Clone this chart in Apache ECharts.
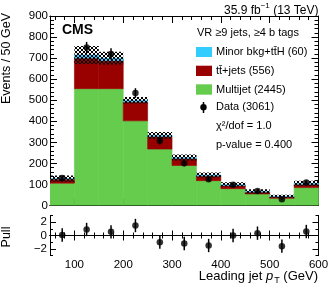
<!DOCTYPE html>
<html>
<head>
<meta charset="utf-8">
<script src="https://cdn.jsdelivr.net/npm/echarts@6/dist/echarts.min.js"></script>
<style>
html,body{margin:0;padding:0;background:#fff;}
#c{width:332px;height:285px;}
</style>
</head>
<body>
<div id="c"></div>
<script>
// ---- data ----
const binEdges = [50,100,150,200,250,300,350,400,450,500,550,600];
const multijet = [106,555,555,402,268,190,118,80,55,34,85];
const ttjets   = [20,145,133,90,60,33,22,15,9,8,16];
const minorBkg = [2,15,12,8,5,5,5,5,3,2,4];
const uncert   = [15,43,30,15,16,14,12,10,10,7,12];
const dataVals = [131,750,720,534,307,201,125,98,69,30,109];
const dataErr  = [11,27,27,23,17,14,11,10,8,5,10];
const pullVals = [0.07,0.9,0.55,1.5,-1.0,-1.2,-1.5,0.0,0.35,-1.6,0.6];
const pullErr  = [1,1,1,1,1,1,1,1,1,1,1];
const xMajorTicks = [100,200,300,400,500,600];
const xMinorTicks = [60,80,120,140,160,180,220,240,260,280,320,340,360,380,420,440,460,480,520,540,560,580];
const yPullMajor = [-2,0,2];
const yPullMinor = [-3,-1,1,3];

const FONT = 'Liberation Sans';
const C_GREEN = '#66cc4d', C_RED = '#990000', C_CYAN = '#33ccff';

// hatch pattern
const pc = document.createElement('canvas');
pc.width = 4; pc.height = 4;
const pctx = pc.getContext('2d');
pctx.fillStyle = '#000';
for (let i = 0; i < 4; i++) { pctx.fillRect(i, i, 1, 1); pctx.fillRect(i, 3 - i, 1, 1); }
const hatch = { image: pc, repeat: 'repeat' };

const centers = binEdges.slice(0, -1).map((e, i) => (e + binEdges[i + 1]) / 2);

function rects(base, vals) {
  return vals.map((v, i) => [binEdges[i], binEdges[i + 1], base[i], base[i] + v]);
}
const zero = multijet.map(() => 0);
const b1 = multijet.slice();
const b2 = multijet.map((v, i) => v + ttjets[i]);
const totals = b2.map((v, i) => v + minorBkg[i]);

function rectItem(color, stroke) {
  return function (params, api) {
    const p0 = api.coord([api.value(0), api.value(3)]);
    const p1 = api.coord([api.value(1), api.value(2)]);
    const st = { fill: color };
    if (stroke) { st.stroke = stroke; st.lineWidth = 0.6; }
    return { type: 'rect', shape: { x: p0[0], y: p0[1], width: p1[0] - p0[0], height: p1[1] - p0[1] },
      style: st };
  };
}
function errItem(params, api) {
  const p0 = api.coord([api.value(0), api.value(1)]);
  const p1 = api.coord([api.value(0), api.value(2)]);
  return { type: 'line', shape: { x1: p0[0], y1: p0[1], x2: p1[0], y2: p1[1] },
    style: { stroke: '#000', lineWidth: 1.5 } };
}

const axisLineStyle = { show: true, lineStyle: { color: '#000', width: 1 } };
function xAx(grid, pos, ticks, len, labels) {
  return {
    type: 'value', gridIndex: grid, position: pos, min: 50, max: 600,
    axisLine: axisLineStyle, splitLine: { show: false },
    axisTick: { show: true, inside: true, length: len, customValues: ticks, lineStyle: { color: '#000' } },
    axisLabel: labels ? { show: true, customValues: xMajorTicks, margin: 3, color: '#000',
      fontFamily: FONT, fontSize: 11.5 } : { show: false }
  };
}
function yPull(pos, ticks, len, labels) {
  return {
    type: 'value', gridIndex: 1, position: pos, min: -3, max: 3,
    axisLine: axisLineStyle, splitLine: { show: false },
    axisTick: { show: true, inside: true, length: len, customValues: ticks, lineStyle: { color: '#000' } },
    axisLabel: labels ? { show: true, customValues: yPullMajor, margin: 3, color: '#000',
      fontFamily: FONT, fontSize: 11.5,
      formatter: v => (v < 0 ? '\u2212' + (-v) : String(v)) } : { show: false }
  };
}
function yMain(pos, labels) {
  return {
    type: 'value', gridIndex: 0, position: pos, min: 0, max: 900, interval: 100,
    axisLine: axisLineStyle, splitLine: { show: false },
    axisTick: { show: true, inside: true, length: 7, lineStyle: { color: '#000' } },
    minorTick: { show: true, splitNumber: 5, length: 4, lineStyle: { color: '#000' } },
    minorSplitLine: { show: false },
    axisLabel: labels ? { show: true, margin: 2, color: '#000', fontFamily: FONT, fontSize: 11.5 } : { show: false }
  };
}

function txt(x, y, text, size, align, extra, rot) {
  const el = {
    type: 'text', x: x, y: y,
    style: Object.assign({ text: text, fill: '#000', font: size + 'px "' + FONT + '"',
      textAlign: align, align: align, textVerticalAlign: 'middle', verticalAlign: 'middle' }, extra || {})
  };
  if (rot) el.rotation = rot;
  return el;
}

const option = {
  animation: false,
  grid: [
    { left: 50, right: 13.5, top: 16, height: 189.5, show: false },
    { left: 50, right: 13.5, top: 215.5, height: 40, show: false }
  ],
  xAxis: [
    xAx(0, 'bottom', xMajorTicks, 7, false),
    xAx(0, 'bottom', xMinorTicks, 4, false),
    xAx(0, 'top', xMajorTicks, 7, false),
    xAx(0, 'top', xMinorTicks, 4, false),
    xAx(1, 'bottom', xMajorTicks, 5, true),
    xAx(1, 'bottom', xMinorTicks, 3, false),
    xAx(1, 'top', xMajorTicks, 5, false),
    xAx(1, 'top', xMinorTicks, 3, false)
  ],
  yAxis: [
    yMain('left', true),
    yMain('right', false),
    yPull('left', yPullMajor, 6, true),
    yPull('left', yPullMinor, 3, false),
    yPull('right', yPullMajor, 6, false),
    yPull('right', yPullMinor, 3, false)
  ],
  series: [
    { type: 'custom', xAxisIndex: 0, yAxisIndex: 0, renderItem: rectItem(C_GREEN, C_GREEN),
      encode: { x: [0, 1], y: [2, 3] }, data: rects(zero, multijet), clip: true },
    { type: 'custom', xAxisIndex: 0, yAxisIndex: 0, renderItem: rectItem(C_RED, C_RED),
      encode: { x: [0, 1], y: [2, 3] }, data: rects(b1, ttjets), clip: true },
    { type: 'custom', xAxisIndex: 0, yAxisIndex: 0, renderItem: rectItem(C_CYAN, C_CYAN),
      encode: { x: [0, 1], y: [2, 3] }, data: rects(b2, minorBkg), clip: true },
    { type: 'custom', xAxisIndex: 0, yAxisIndex: 0, renderItem: rectItem(hatch),
      encode: { x: [0, 1], y: [2, 3] },
      data: totals.map((t, i) => [binEdges[i], binEdges[i + 1], t - uncert[i], t + uncert[i]]), clip: true },
    { type: 'custom', xAxisIndex: 0, yAxisIndex: 0, renderItem: errItem,
      encode: { x: 0, y: [1, 2] },
      data: dataVals.map((v, i) => [centers[i], v - dataErr[i], v + dataErr[i]]) },
    { type: 'scatter', xAxisIndex: 0, yAxisIndex: 0, symbol: 'circle', symbolSize: 6.5,
      itemStyle: { color: '#000' }, data: dataVals.map((v, i) => [centers[i], v]) },
    // pull panel
    { type: 'line', xAxisIndex: 4, yAxisIndex: 2, data: [[50, 0], [600, 0]], symbol: 'none',
      lineStyle: { color: '#000', width: 1, type: [3, 3] } },
    { type: 'custom', xAxisIndex: 4, yAxisIndex: 2, renderItem: errItem,
      encode: { x: 0, y: [1, 2] },
      data: pullVals.map((v, i) => [centers[i], v - pullErr[i], v + pullErr[i]]) },
    { type: 'scatter', xAxisIndex: 4, yAxisIndex: 2, symbol: 'circle', symbolSize: 6.5,
      itemStyle: { color: '#000' }, data: pullVals.map((v, i) => [centers[i], v]) }
  ],
  graphic: [
    txt(62, 30.5, 'CMS', 14, 'left', { font: 'bold 14px "' + FONT + '"' }),
    { type: 'text', x: 318.5, y: 9, style: {
        text: '{a|35.9 fb}{s|\u22121}{a| (13 TeV)}', textAlign: 'right', align: 'right',
        textVerticalAlign: 'middle', verticalAlign: 'middle', fill: '#000',
        rich: {
          a: { fontFamily: FONT, fontSize: 12, lineHeight: 15, verticalAlign: 'bottom', fill: '#000' },
          s: { fontFamily: FONT, fontSize: 8, lineHeight: 8, verticalAlign: 'top', fill: '#000' }
        } } },
    txt(197, 32.5, 'VR \u22659 jets, \u22654 b tags', 11, 'left'),
    { type: 'rect', shape: { x: 196, y: 47, width: 16, height: 10 }, style: { fill: C_CYAN } },
    { type: 'rect', shape: { x: 196, y: 65.7, width: 16, height: 10.3 }, style: { fill: C_RED } },
    { type: 'rect', shape: { x: 196, y: 84.3, width: 16, height: 10.4 }, style: { fill: C_GREEN } },
    { type: 'line', shape: { x1: 203.5, y1: 102, x2: 203.5, y2: 113 }, style: { stroke: '#000', lineWidth: 1.5 } },
    { type: 'circle', shape: { cx: 203.5, cy: 107.3, r: 3.2 }, style: { fill: '#000' } },
    txt(216, 52, 'Minor bkg+tt\u0304H (60)', 11, 'left'),
    txt(216, 71, 'tt\u0304+jets (556)', 11, 'left'),
    txt(216, 89.5, 'Multijet (2445)', 11, 'left'),
    txt(216, 107.3, 'Data (3061)', 11, 'left'),
    txt(216, 126, '\u03c7\u00b2/dof = 1.0', 11, 'left'),
    txt(216, 145, 'p-value = 0.400', 11, 'left'),
    txt(7, 13, 'Events / 50 GeV', 12.5, 'right', null, Math.PI / 2),
    txt(7, 237, 'Pull', 12.5, 'center', null, Math.PI / 2),
    { type: 'text', x: 318, y: 276, style: {
        text: '{a|Leading jet }{i|p}{s|T}{a| (GeV)}', textAlign: 'right', align: 'right',
        textVerticalAlign: 'middle', verticalAlign: 'middle', fill: '#000',
        rich: {
          a: { fontFamily: FONT, fontSize: 13, lineHeight: 13, verticalAlign: 'top', fill: '#000' },
          i: { fontFamily: FONT, fontSize: 13, fontStyle: 'italic', lineHeight: 13, verticalAlign: 'top', fill: '#000' },
          s: { fontFamily: FONT, fontSize: 9, lineHeight: 9, verticalAlign: 'top', padding: [7, 0, 0, 1], fill: '#000' }
        } } }
  ]
};

const chart = echarts.init(document.getElementById('c'), null, { renderer: 'canvas' });
chart.setOption(option);
</script>
</body>
</html>
